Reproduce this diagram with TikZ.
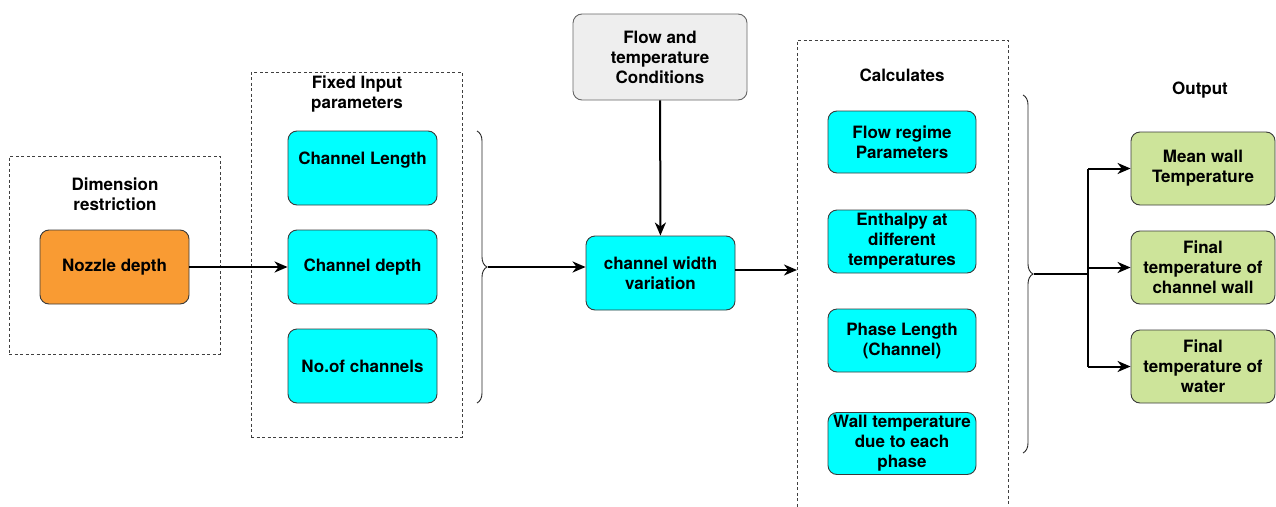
\documentclass[tikz,border=0pt]{standalone}
\usepackage{fontspec}
\setmainfont{TeX Gyre Heros}
\usetikzlibrary{arrows.meta,decorations.pathreplacing}
\definecolor{cyanfill}{HTML}{00FFFF}
\definecolor{orangefill}{HTML}{F99B33}
\definecolor{greyfill}{HTML}{EEEEEE}
\definecolor{greenfill}{HTML}{CDE49A}
\definecolor{boxline}{HTML}{3A3A3A}
\begin{document}
\begin{tikzpicture}[x=1pt,y=-1pt,
  lbl/.style={font=\bfseries\fontsize{17}{20}\selectfont, align=center, inner sep=0pt, text=black},
  box/.style={lbl, draw=boxline, line width=0.9pt, rounded corners=9pt},
  cbox/.style={box, fill=cyanfill},
  dbox/.style={draw=black!75, dash pattern=on 3pt off 2.5pt, line width=0.8pt, inner sep=0pt},
  arr/.style={line width=2pt, -{Stealth[length=13pt,width=11pt,inset=4pt]}},
  plain/.style={line width=2pt},
  curly/.style={draw=black!85, line width=0.9pt, decorate, decoration={brace, amplitude=10pt, aspect=0.5}}
]
\clip (0,0) rectangle (1276,506);
\useasboundingbox (0,0) rectangle (1276,506);

% dashed groups
\node[dbox, minimum width=211pt, minimum height=198pt] (dimgrp) at (114.5,255) {};
\node[dbox, minimum width=211pt, minimum height=365pt] (fixgrp) at (356.5,254.5) {};
\coordinate (calcTL) at (797,40);
\coordinate (calcTR) at (1008,40);
\coordinate (calcBL) at (797,512);
\coordinate (calcBR) at (1008,512);
\draw[draw=black!75, dash pattern=on 3pt off 2.5pt, line width=0.8pt] (calcBL) -- (calcTL) -- (calcTR) -- (calcBR);

% titles
\node[lbl] (dimtitle) at (115,194) {Dimension\\restriction};
\node[lbl] (fixtitle) at (357,94) {Fixed Input\\parameters};
\node[lbl] (calctitle) at (902,75) {Calculates};
\node[lbl] (outtitle) at (1200,90) {Output};

% boxes
\node[box, fill=orangefill, minimum width=149pt, minimum height=74pt] (nozzle) at (114.5,267) {Nozzle depth};
\node[cbox, minimum width=149pt, minimum height=74pt, text depth=20pt] (chlen) at (362.5,168) {Channel Length};
\node[cbox, minimum width=149pt, minimum height=74pt] (chdep) at (362.5,267) {Channel depth};
\node[cbox, minimum width=149pt, minimum height=74pt] (nch) at (362.5,366) {No.of channels};
\node[cbox, minimum width=149pt, minimum height=74pt] (cwv) at (660.5,273) {channel width\\variation};
\node[box, fill=greyfill, draw=black!60, minimum width=174pt, minimum height=86pt] (flow) at (660,57) {Flow and\\temperature\\Conditions};

\node[cbox, minimum width=148pt, minimum height=62pt] (regime) at (902,142) {Flow regime\\Parameters};
\node[cbox, minimum width=148pt, minimum height=63pt] (enth) at (902,241.5) {Enthalpy at\\different\\temperatures};
\node[cbox, minimum width=148pt, minimum height=63pt] (phase) at (902,340.5) {Phase Length\\(Channel)};
\node[cbox, minimum width=148pt, minimum height=62pt] (wall) at (902,443.5) {Wall temperature\\due to each\\phase};

\node[box, fill=greenfill, minimum width=144pt, minimum height=73pt] (mean) at (1203,168.5) {Mean wall\\Temperature};
\node[box, fill=greenfill, minimum width=144pt, minimum height=73pt] (fwall) at (1203,267.5) {Final\\temperature of\\channel wall};
\node[box, fill=greenfill, minimum width=144pt, minimum height=73pt] (fwater) at (1203,366.5) {Final\\temperature of\\water};

% braces
\coordinate (b1top) at (477,131);
\coordinate (b1bot) at (477,403);
\coordinate (b1tip) at (488,267);
\draw[curly] (b1top) -- (b1bot);
\coordinate (b2top) at (1023,95);
\coordinate (b2bot) at (1023,453);
\coordinate (b2tip) at (1034,274);
\draw[curly] (b2top) -- (b2bot);

% connectors
\draw[arr] (nozzle) -- (chdep);
\draw[arr] (b1tip) -- (b1tip -| cwv.west);
\draw[arr] (flow) -- (cwv);
\coordinate (calcin) at (797,270);
\draw[arr] (cwv.east |- calcin) -- (calcin);
\coordinate (trunk) at (1088,274);
\coordinate (trunkTop) at (1088,168.5);
\coordinate (trunkMid) at (1088,267.5);
\coordinate (trunkBot) at (1088,366.5);
\draw[plain] (b2tip) -- (trunk);
\draw[plain] (trunkTop) -- (trunkBot);
\draw[arr] (trunkTop) -- (mean);
\draw[arr] (trunkMid) -- (fwall);
\draw[arr] (trunkBot) -- (fwater);
\end{tikzpicture}
\end{document}
